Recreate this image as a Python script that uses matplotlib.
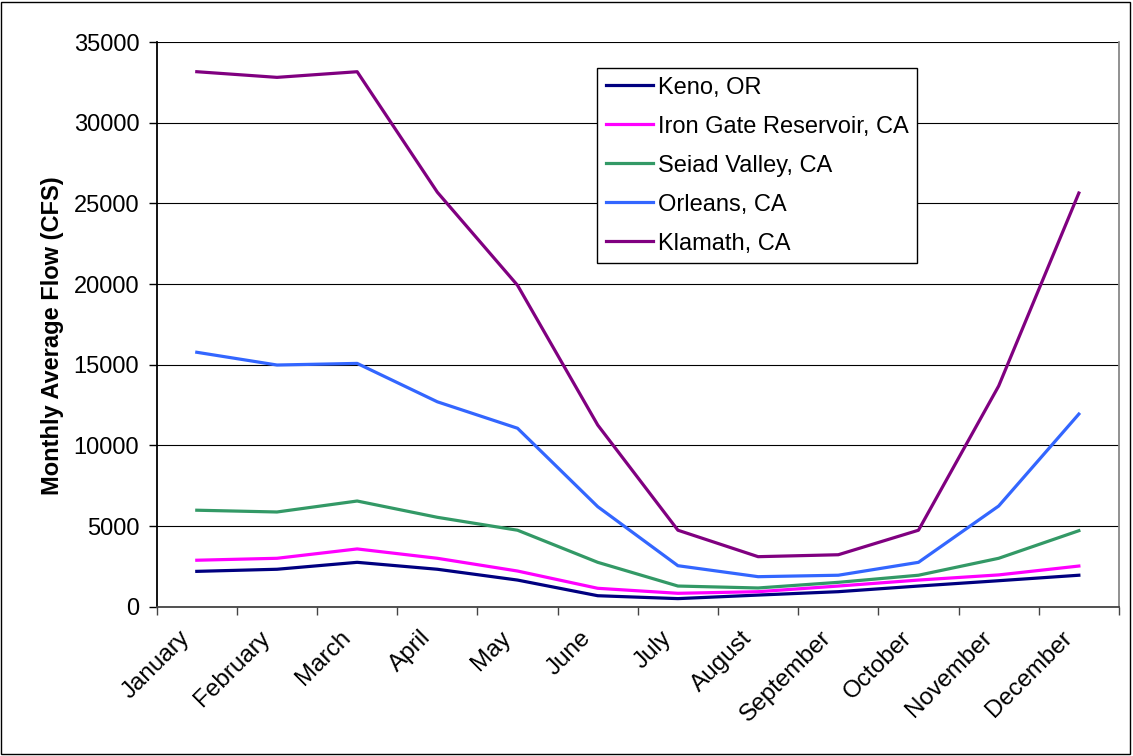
import matplotlib
matplotlib.use("Agg")
import matplotlib.pyplot as plt
import matplotlib.transforms as mtransforms
import numpy as np
from matplotlib.patches import Rectangle

months = ["January", "February", "March", "April", "May", "June", "July",
          "August", "September", "October", "November", "December"]
keno = [2190, 2320, 2750, 2320, 1650, 680, 500, 720, 930, 1280, 1610, 1950]
iron_gate = [2880, 3000, 3580, 3000, 2210, 1140, 830, 930, 1280, 1650, 1970, 2520]
seiad = [5980, 5870, 6550, 5540, 4740, 2750, 1280, 1160, 1510, 1950, 3000, 4710]
orleans = [15770, 14980, 15080, 12700, 11060, 6200, 2540, 1860, 1950, 2750, 6240, 11940]
klamath = [33160, 32810, 33160, 25690, 19920, 11260, 4740, 3100, 3220, 4740, 13680, 25640]

series = [("Keno, OR", keno, "#000080"),
          ("Iron Gate Reservoir, CA", iron_gate, "#FF00FF"),
          ("Seiad Valley, CA", seiad, "#339966"),
          ("Orleans, CA", orleans, "#3366FF"),
          ("Klamath, CA", klamath, "#800080")]

plt.rcParams['font.family'] = ['Liberation Sans', 'DejaVu Sans']

fig = plt.figure(figsize=(11.33, 7.56), dpi=100)
ax = fig.add_axes([0.1383, 0.1975, 0.8493, 0.7469])

x = np.arange(len(months))
for name, vals, col in series:
    ax.plot(x, vals, color=col, lw=2.3, label=name, solid_joinstyle='round')

ax.set_xlim(-0.5, len(months) - 0.5)
ax.set_ylim(0, 35000)
ax.set_yticks(np.arange(0, 35001, 5000))
ax.yaxis.grid(True, color='black', lw=0.8)
ax.set_axisbelow(True)

ax.set_xticks(x)
ax.set_xticks(np.arange(-0.5, len(months)), minor=True)
ax.tick_params(axis='x', which='major', length=0, pad=20)
ax.tick_params(axis='x', which='minor', length=5.5, width=1, color='#444444', direction='out')
ax.tick_params(axis='y', length=5.5, width=1, labelsize=17, pad=7, direction='out')
ax.set_xticklabels(months, rotation=45, ha='right', va='center',
                   rotation_mode='anchor', fontsize=17.5)
offset = mtransforms.ScaledTranslation(-10 / 100, 0, fig.dpi_scale_trans)
for lab in ax.get_xticklabels():
    lab.set_transform(lab.get_transform() + offset)

ax.spines['top'].set_visible(False)
ax.spines['left'].set_color('black')
ax.spines['bottom'].set_color('#444444')
ax.spines['right'].set_color('#888888')
for s in ['left', 'bottom', 'right']:
    ax.spines[s].set_linewidth(1.3)

ax.set_ylabel("Monthly Average Flow (CFS)", fontsize=17, fontweight='bold',
              labelpad=7, y=0.48)

leg = ax.legend(loc='upper left', bbox_to_anchor=(0.4576, 0.954), borderaxespad=0,
                fontsize=17, handlelength=2.0, labelspacing=0.72, handletextpad=0.21,
                fancybox=False, frameon=True, borderpad=0.36)
leg.get_frame().set_edgecolor('black')
leg.get_frame().set_linewidth(1.0)
leg.get_frame().set_alpha(1)

fig.patches.append(Rectangle((0.001, 0.003), 0.996, 0.995, transform=fig.transFigure,
                             fill=False, edgecolor='black', lw=1.0))

fig.savefig("out.png", dpi=100)
